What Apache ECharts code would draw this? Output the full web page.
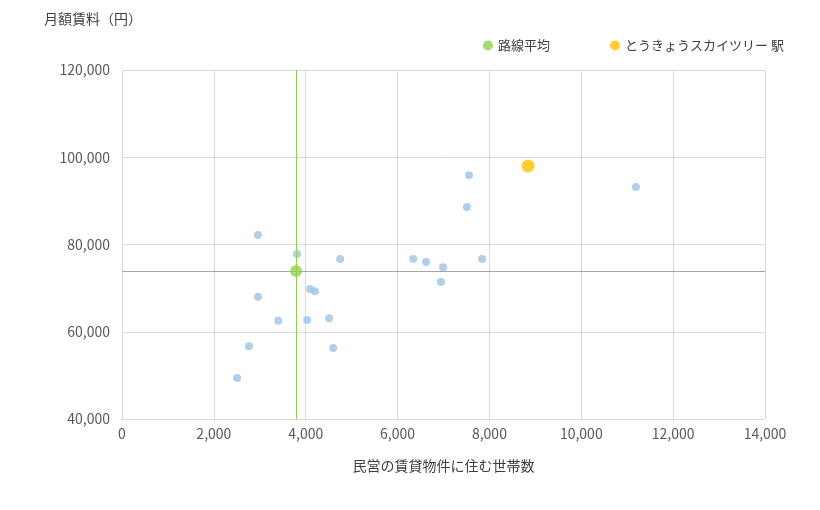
<!DOCTYPE html>
<html lang="ja">
<head>
<meta charset="UTF-8">
<script src="https://cdn.jsdelivr.net/npm/echarts@6/dist/echarts.min.js"></script>
<style>
  body { margin: 0; background: #fff; }
  #chart { width: 820px; height: 510px; }
</style>
</head>
<body>
<div id="chart"></div>
<script>
// 各駅 [世帯数, 月額賃料]
var stationPoints = [
  [2505, 49400], [2765, 56700], [2960, 68000], [2960, 82200], [3400, 62500],
  [3810, 77800], [4030, 62700], [4095, 69800], [4200, 69300], [4510, 63100],
  [4600, 56300], [4750, 76700], [6340, 76700], [6620, 76000], [6990, 74800],
  [6945, 71400], [7510, 88600], [7555, 95900], [7840, 76700], [11190, 93200]
];
var averagePoint = [3790, 73900];
var targetPoint = [8840, 98000];
var xTicks = [0, 2000, 4000, 6000, 8000, 10000, 12000, 14000];
var yTicks = [40000, 60000, 80000, 100000, 120000];

var font = 'Meiryo, "Noto Sans CJK JP", sans-serif';
var chart = echarts.init(document.getElementById('chart'));
chart.setOption({
  animation: false,
  textStyle: { fontFamily: font, color: '#595959' },
  grid: { left: 122, right: 55, top: 70, bottom: 91 },
  legend: {
    top: 34, left: 478, itemGap: 60, itemWidth: 10, itemHeight: 10,
    textStyle: { fontFamily: font, fontSize: 13, color: '#404040' },
    data: [
      { name: '路線平均', icon: 'circle' },
      { name: 'とうきょうスカイツリー 駅', icon: 'circle' }
    ]
  },
  graphic: [
    { type: 'text', left: 44, top: 12, style: { text: '月額賃料（円）', font: '14px ' + font, fill: '#404040' } }
  ],
  xAxis: {
    type: 'value', min: xTicks[0], max: xTicks[xTicks.length - 1], interval: 2000,
    name: '民営の賃貸物件に住む世帯数', nameLocation: 'middle', nameGap: 40,
    nameTextStyle: { fontSize: 14, color: '#404040' },
    axisLine: { lineStyle: { color: '#d9d9d9' } },
    axisTick: { show: false },
    axisLabel: { fontSize: 14, color: '#595959', formatter: function (v) { return v.toLocaleString('en-US'); } },
    splitLine: { lineStyle: { color: '#d9d9d9' } }
  },
  yAxis: {
    type: 'value', min: yTicks[0], max: yTicks[yTicks.length - 1], interval: 20000,
    axisLine: { show: false }, axisTick: { show: false },
    axisLabel: { fontSize: 14, color: '#595959', margin: 12, formatter: function (v) { return v.toLocaleString('en-US'); } },
    splitLine: { lineStyle: { color: '#d9d9d9' } }
  },
  series: [
    {
      name: '駅', type: 'scatter', symbolSize: 8,
      itemStyle: { color: '#9dc3e6' }, data: stationPoints
    },
    {
      name: '路線平均', type: 'scatter', symbolSize: 12, z: 5,
      itemStyle: { color: '#92d050' }, data: [averagePoint],
      markLine: {
        symbol: 'none', silent: true, label: { show: false },
        data: [
          { xAxis: averagePoint[0], lineStyle: { color: '#92d050', type: 'solid', width: 1 } },
          { yAxis: averagePoint[1], lineStyle: { color: '#a6a6a6', type: 'solid', width: 1 } }
        ]
      }
    },
    {
      name: 'とうきょうスカイツリー 駅', type: 'scatter', symbolSize: 13, z: 5,
      itemStyle: { color: '#ffc000' }, data: [targetPoint]
    }
  ]
});
</script>
</body>
</html>
